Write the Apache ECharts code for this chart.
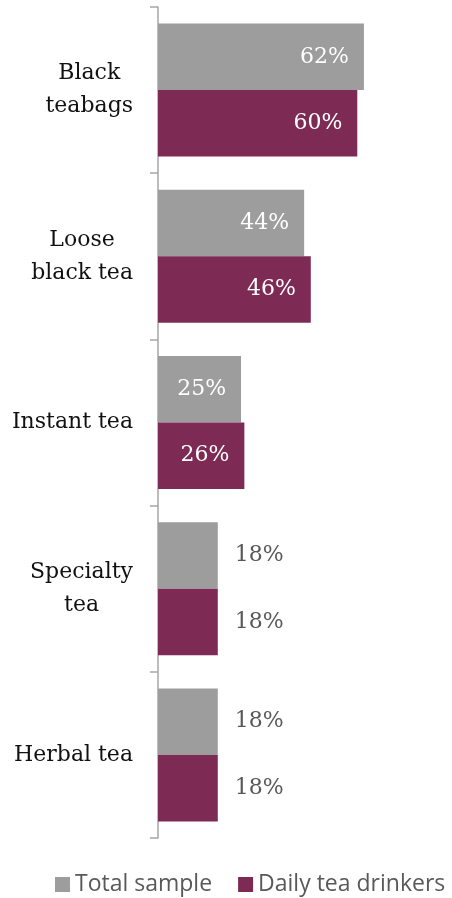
<!DOCTYPE html>
<html>
<head>
<meta charset="utf-8">
<script src="https://cdn.jsdelivr.net/npm/echarts@6/dist/echarts.min.js"></script>
<style>html,body{margin:0;padding:0;background:#fff;}#c{width:452px;height:898px;}</style>
</head>
<body>
<div id="c"></div>
<script>
const categories = ['Black\nteabags', 'Loose\nblack tea', 'Instant tea', 'Specialty\ntea', 'Herbal tea'];
const seriesNames = ['Total sample', 'Daily tea drinkers'];
const totalSample = [62, 44, 25, 18, 18];
const dailyDrinkers = [60, 46, 26, 18, 18];
const colors = ['#9d9d9d', '#7d2b55'];

const serif = '"DejaVu Serif", serif';
function items(vals) {
  return vals.map(v => ({
    value: v,
    label: v >= 22
      ? { position: 'insideRight', distance: 15, color: '#ffffff' }
      : { position: 'right', distance: 17, color: '#595959' }
  }));
}
const chart = echarts.init(document.getElementById('c'));
chart.setOption({
  animation: false,
  grid: { left: 158, top: 7, width: 232.5, height: 831 },
  xAxis: { type: 'value', min: 0, max: 70, show: false },
  yAxis: {
    type: 'category', inverse: true, data: categories,
    axisLine: { show: true, lineStyle: { color: '#a6a6a6', width: 1.5 } },
    axisTick: { show: true, alignWithLabel: false, interval: 0, inside: false, length: 8, lineStyle: { color: '#a6a6a6', width: 1.5 } },
    axisLabel: {
      margin: 25,
      formatter: v => v.split('\n').map(s => '{c|' + s + '}').join('\n'),
      rich: { c: { align: 'center', fontFamily: serif, fontSize: 22, color: '#111', lineHeight: 33 } }
    }
  },
  legend: {
    left: 55, top: 873, width: 397, padding: 0, itemWidth: 15, itemHeight: 15, itemGap: 26, icon: 'rect',
    textStyle: { fontFamily: '"Open Sans", sans-serif', fontSize: 23, color: '#595959' },
    data: seriesNames
  },
  series: [
    { name: seriesNames[0], type: 'bar', data: items(totalSample), barGap: '0%', barCategoryGap: '20%',
      itemStyle: { color: colors[0] },
      label: { show: true, formatter: '{c}%', fontFamily: serif, fontSize: 22 } },
    { name: seriesNames[1], type: 'bar', data: items(dailyDrinkers), barGap: '0%', barCategoryGap: '20%',
      itemStyle: { color: colors[1] },
      label: { show: true, formatter: '{c}%', fontFamily: serif, fontSize: 22 } }
  ]
});
</script>
</body>
</html>
